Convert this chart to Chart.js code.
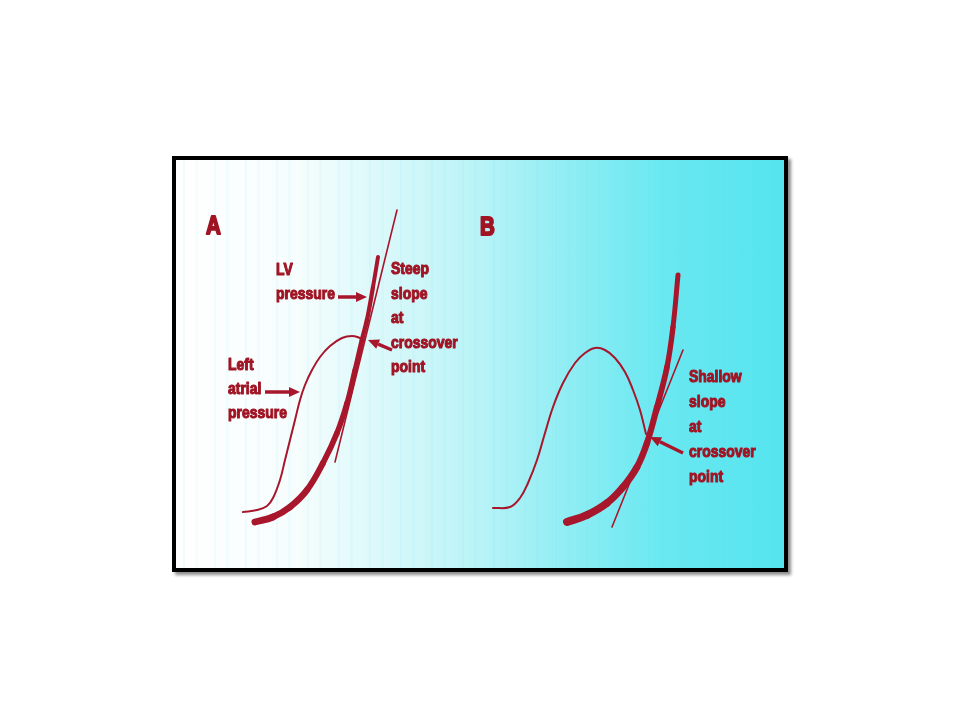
<!DOCTYPE html>
<html>
<head>
<meta charset="utf-8">
<script src="https://cdn.jsdelivr.net/npm/chart.js@4.4.1/dist/chart.umd.min.js"></script>
<style>
  html, body { margin: 0; padding: 0; background: #fff; width: 960px; height: 720px; overflow: hidden; }
  #frame {
    position: absolute; left: 172px; top: 156px;
    width: 608px; height: 408px;
    border: 4px solid #000;
    box-shadow: 3px 3px 3px rgba(0, 0, 0, 0.45);
    background:
      repeating-linear-gradient(90deg, rgba(90,215,230,0) 0 7px, rgba(90,215,230,0.07) 7px 9px, rgba(90,215,230,0) 9px 19px, rgba(90,215,230,0.05) 19px 22px, rgba(90,215,230,0) 22px 31px),
      linear-gradient(to right, #ffffff 0%, #f6fdfd 20%, #d8f8fa 35%, #b8f3f7 50%, #8eedf3 65%, #6ae8f1 80%, #54e4ef 100%);
  }
  #chart { display: block; }
</style>
</head>
<body>
<div id="frame"><canvas id="chart" width="608" height="408"></canvas></div>
<script>
// ===============================
// Data (x = time, y = pressure, arbitrary units)
// ===============================
const laCurveA = [[67,56],[81,58],[91,62],[97,70],[104,88],[109,108],[114,128],[119,148],[124,168],[129,183],[136,198],[144,211],[154,222],[166,230],[176,232],[184,230],[188,228]];
const lvCurveA = [[79,46],[97,51],[114,61],[131,78],[147,105],[161,135],[171,165],[179,198],[186,228],[191,248],[197,281],[202,311]];
const tangentA = [[159,106],[221,358]];

const laCurveB = [[317,60],[334,61],[344,70],[352,85],[361,108],[369,135],[377,161],[387,185],[399,205],[409,215],[419,220],[429,218],[439,210],[449,196],[457,178],[464,158],[470,134]];
const lvCurveB = [[391,46],[411,53],[431,65],[447,81],[461,101],[471,125],[481,161],[491,201],[497,241],[502,293]];
const tangentB = [[436,41],[507,218]];

// arrows: [tail, head]
const arrows = [
  [[89,176],[124,176]],   // left atrial pressure
  [[162,271],[191,271]],  // LV pressure
  [[216,218],[192,228]],  // steep crossover
  [[507,115],[474,131]]   // shallow crossover
];

// label anchors: [text lines, x, first baseline y, line step, size]
const labels = [
  [['A'], 30, 334, 0, 25],
  [['B'], 304, 333, 0, 25],
  [['LV', 'pressure'], 100, 293, 24, 17],
  [['Steep', 'slope', 'at', 'crossover', 'point'], 215, 294, 24.5, 17],
  [['Left', 'atrial', 'pressure'], 52, 198, 24, 17],
  [['Shallow', 'slope', 'at', 'crossover', 'point'], 513, 186, 25, 17]
];

const RED = '#a8162c';
const TEXT_RED = '#a01424';

const toPts = arr => arr.map(p => ({ x: p[0], y: p[1] }));

function taper(n, from, to) {
  return ctx => from - (from - to) * ctx.p0DataIndex / (n - 2);
}

function curve(data, width, extra) {
  return Object.assign({
    data: toPts(data),
    showLine: true,
    borderColor: RED,
    borderWidth: width,
    pointRadius: 0,
    fill: false,
    tension: 0.4,
    borderCapStyle: 'round',
    borderJoinStyle: 'round'
  }, extra || {});
}

// ------------------------------
// Annotation plugin (arrows + text)
// ------------------------------
const annotations = {
  id: 'annotations',
  afterDatasetsDraw(chart) {
    const { ctx, scales: { x, y } } = chart;
    ctx.save();

    // arrows
    ctx.strokeStyle = RED;
    ctx.fillStyle = RED;
    arrows.forEach(([tail, head]) => {
      const x0 = x.getPixelForValue(tail[0]), y0 = y.getPixelForValue(tail[1]);
      const x1 = x.getPixelForValue(head[0]), y1 = y.getPixelForValue(head[1]);
      const ang = Math.atan2(y1 - y0, x1 - x0);
      const len = 11, half = 5;
      const bx = x1 - len * Math.cos(ang), by = y1 - len * Math.sin(ang);
      ctx.lineWidth = 3.5;
      ctx.beginPath();
      ctx.moveTo(x0, y0);
      ctx.lineTo(bx, by);
      ctx.stroke();
      ctx.beginPath();
      ctx.moveTo(x1, y1);
      ctx.lineTo(bx + half * Math.sin(ang), by - half * Math.cos(ang));
      ctx.lineTo(bx - half * Math.sin(ang), by + half * Math.cos(ang));
      ctx.closePath();
      ctx.fill();
    });

    // text (bold, condensed, slightly heavier like the print)
    ctx.fillStyle = TEXT_RED;
    ctx.strokeStyle = TEXT_RED;
    ctx.lineJoin = 'round';
    ctx.textBaseline = 'alphabetic';
    ctx.textAlign = 'left';
    labels.forEach(([lines, lx, ly, step, size]) => {
      ctx.font = `bold ${size}px "Liberation Sans", Arial, sans-serif`;
      ctx.lineWidth = size > 20 ? 2 : 1.1;
      lines.forEach((t, i) => {
        const px = x.getPixelForValue(lx);
        const py = y.getPixelForValue(ly) + i * step;
        ctx.save();
        ctx.translate(px, py);
        ctx.scale(0.82, 1);
        ctx.fillText(t, 0, 0);
        ctx.strokeText(t, 0, 0);
        ctx.restore();
      });
    });
    ctx.restore();
  }
};

new Chart(document.getElementById('chart').getContext('2d'), {
  type: 'scatter',
  data: {
    datasets: [
      curve(laCurveA, 2),
      curve(lvCurveA, 6, { segment: { borderWidth: taper(lvCurveA.length, 7, 4) } }),
      curve(tangentA, 1.6, { tension: 0 }),
      curve(laCurveB, 2),
      curve(lvCurveB, 6, { segment: { borderWidth: taper(lvCurveB.length, 8, 5) } }),
      curve(tangentB, 1.6, { tension: 0 })
    ]
  },
  options: {
    responsive: false,
    animation: false,
    devicePixelRatio: 1,
    layout: { padding: 0 },
    plugins: { legend: { display: false }, tooltip: { enabled: false } },
    scales: {
      x: { type: 'linear', min: 0, max: 608, display: false },
      y: { type: 'linear', min: 0, max: 408, display: false }
    }
  },
  plugins: [annotations]
});
</script>
</body>
</html>
